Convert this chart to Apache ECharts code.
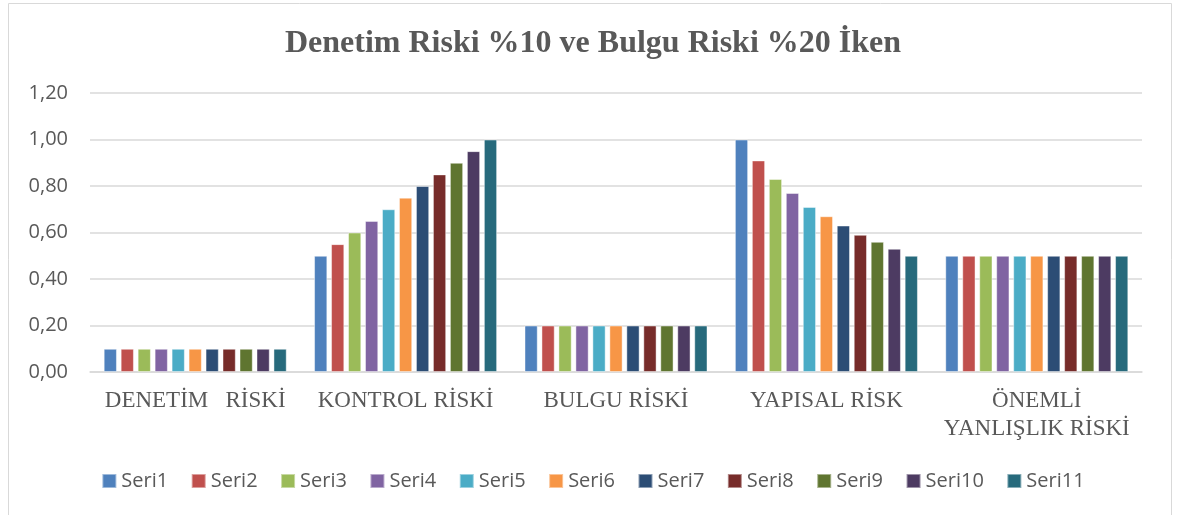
<!DOCTYPE html>
<html>
<head>
<meta charset="utf-8">
<script src="https://cdn.jsdelivr.net/npm/echarts@6/dist/echarts.min.js"></script>
<style>
    html, body { margin: 0; padding: 0; background: #fff; }
    #chart { width: 1186px; height: 515px; }
</style>
</head>
<body>
<div id="chart"></div>
<script>
// kategoriler
var categories = ['DENETİM   RİSKİ', 'KONTROL RİSKİ', 'BULGU RİSKİ', 'YAPISAL RİSK', 'ÖNEMLİ\nYANLIŞLIK RİSKİ'];
var seriesNames = ['Seri1', 'Seri2', 'Seri3', 'Seri4', 'Seri5', 'Seri6', 'Seri7', 'Seri8', 'Seri9', 'Seri10', 'Seri11'];

// her kategori için seri değerleri
var denetimRiski = [0.10, 0.10, 0.10, 0.10, 0.10, 0.10, 0.10, 0.10, 0.10, 0.10, 0.10];
var kontrolRiski = [0.50, 0.55, 0.60, 0.65, 0.70, 0.75, 0.80, 0.85, 0.90, 0.95, 1.00];
var bulguRiski   = [0.20, 0.20, 0.20, 0.20, 0.20, 0.20, 0.20, 0.20, 0.20, 0.20, 0.20];
var yapisalRisk  = [1.00, 0.91, 0.83, 0.77, 0.71, 0.67, 0.63, 0.59, 0.56, 0.53, 0.50];
var onemliRisk   = [0.50, 0.50, 0.50, 0.50, 0.50, 0.50, 0.50, 0.50, 0.50, 0.50, 0.50];

var colors = ['#4F81BD', '#C0504D', '#9BBB59', '#8064A2', '#4BACC6', '#F79646',
              '#2C4D75', '#772C2A', '#5F7530', '#4D3B62', '#276A7C'];

var chart = echarts.init(document.getElementById('chart'));

var series = [];
for (var i = 0; i < seriesNames.length; i++) {
    series.push({
        name: seriesNames[i],
        type: 'bar',
        barGap: '28%',
        barCategoryGap: '13%',
        itemStyle: {
            color: colors[i],
            borderColor: 'rgba(255,255,255,0.45)',
            borderWidth: 1
        },
        data: [denetimRiski[i], kontrolRiski[i], bulguRiski[i], yapisalRisk[i], onemliRisk[i]]
    });
}

var option = {
    animation: false,
    color: colors,
    title: {
        text: 'Denetim Riski %10 ve Bulgu Riski %20 İken',
        left: 'center',
        top: 23,
        textStyle: {
            fontFamily: 'Liberation Serif',
            fontWeight: 'bold',
            fontSize: 32,
            color: '#595959'
        }
    },
    graphic: [{
        type: 'rect',
        shape: { x: 8.5, y: 3.5, width: 1163, height: 530 },
        style: { fill: 'none', stroke: '#d9d9d9', lineWidth: 1 },
        silent: true
    }],
    legend: {
        data: seriesNames,
        top: 466,
        left: 'center',
        icon: 'rect',
        itemWidth: 14,
        itemHeight: 14,
        itemGap: 22.5,
        textStyle: {
            fontFamily: 'Open Sans',
            fontSize: 20,
            color: '#595959'
        }
    },
    grid: {
        left: 90,
        right: 44,
        top: 93,
        bottom: 143
    },
    xAxis: {
        type: 'category',
        data: categories,
        axisLine: { lineStyle: { color: '#d9d9d9', width: 1.5 } },
        axisTick: { show: false },
        axisLabel: {
            interval: 0,
            margin: 15,
            fontFamily: 'Liberation Serif',
            fontSize: 23,
            lineHeight: 28,
            color: '#595959'
        }
    },
    yAxis: {
        type: 'value',
        min: 0,
        max: 1.2,
        interval: 0.2,
        axisLine: { show: false },
        axisTick: { show: false },
        splitLine: { lineStyle: { color: '#d9d9d9', width: 1.5 } },
        axisLabel: {
            margin: 22,
            fontFamily: 'Open Sans',
            fontSize: 20,
            color: '#595959',
            formatter: function (v) { return v.toFixed(2).replace('.', ','); }
        }
    },
    series: series
};
chart.setOption(option);
</script>
</body>
</html>
